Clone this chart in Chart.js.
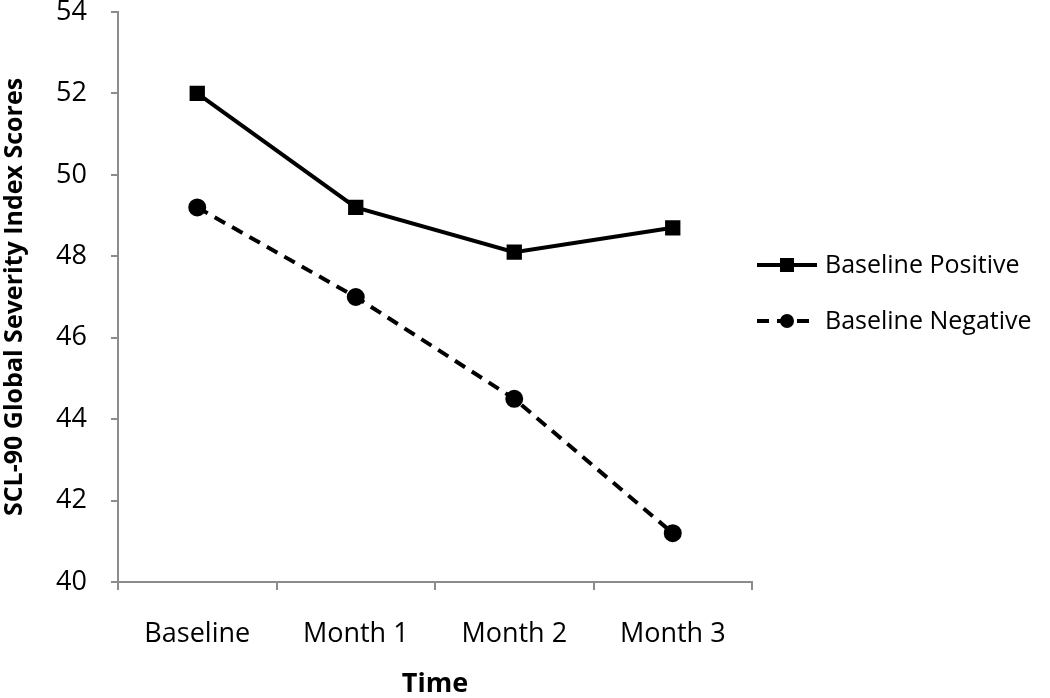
<!DOCTYPE html>
<html>
<head>
<meta charset="utf-8">
<script src="https://cdn.jsdelivr.net/npm/chart.js@4"></script>
<style>
  html, body { margin: 0; padding: 0; background: #fff; }
  #wrap { width: 1050px; height: 698px; }
</style>
</head>
<body>
<div id="wrap"><canvas id="myChart" width="1050" height="698"></canvas></div>
<script>
const timeLabels = ["Baseline", "Month 1", "Month 2", "Month 3"];
const positiveScores = [52.0, 49.2, 48.1, 48.7];
const negativeScores = [49.2, 47.0, 44.5, 41.2];
const seriesNames = ["Baseline Positive", "Baseline Negative"];

const fontFamily = "'Open Sans', sans-serif";

// legend drawn by hand so each entry shows the line with its marker
const sideLegend = {
  id: "sideLegend",
  afterDraw(chart) {
    const ctx = chart.ctx;
    chart.data.datasets.forEach((ds, i) => {
      const y = 265 + i * 56;
      ctx.save();
      ctx.strokeStyle = "#000";
      ctx.lineWidth = 4;
      ctx.setLineDash(ds.borderDash || []);
      ctx.beginPath();
      ctx.moveTo(757, y);
      ctx.lineTo(817, y);
      ctx.stroke();
      ctx.setLineDash([]);
      ctx.fillStyle = "#000";
      if (ds.pointStyle === "rect") {
        ctx.fillRect(787 - 7, y - 7, 14, 14);
      } else {
        ctx.beginPath();
        ctx.arc(787, y, 7, 0, Math.PI * 2);
        ctx.fill();
      }
      ctx.font = "25px " + fontFamily;
      ctx.textBaseline = "middle";
      ctx.fillText(ds.label, 825, y + 1);
      ctx.restore();
    });
  },
};

let ctx = document.getElementById("myChart").getContext("2d");
let myChart = new Chart(ctx, {
  type: "line",
  data: {
    labels: timeLabels,
    datasets: [
      {
        label: seriesNames[0],
        data: positiveScores,
        borderColor: "#000",
        backgroundColor: "#000",
        borderWidth: 4,
        pointStyle: "rect",
        pointRadius: 8,
        fill: false,
      },
      {
        label: seriesNames[1],
        data: negativeScores,
        borderColor: "#000",
        backgroundColor: "#000",
        borderWidth: 4,
        borderDash: [12, 8],
        pointStyle: "circle",
        pointRadius: 7,
        fill: false,
      },
    ],
  },
  options: {
    responsive: false,
    animation: false,
    layout: { padding: { top: 6, right: 298, left: 0, bottom: 0 } },
    plugins: {
      legend: { display: false },
      tooltip: { enabled: false },
    },
    scales: {
      x: {
        offset: true,
        grid: {
          offset: true,
          drawOnChartArea: false,
          tickLength: 8,
          color: "#8c8c8c",
          lineWidth: 2,
        },
        border: { color: "#8c8c8c", width: 2 },
        ticks: {
          color: "#000",
          font: { family: fontFamily, size: 27 },
          padding: 28,
        },
        title: {
          display: true,
          text: "Time",
          color: "#000",
          font: { family: fontFamily, size: 27, weight: "bold", lineHeight: 1.0 },
          padding: { top: 18, bottom: 0 },
        },
        afterFit(scale) {
          scale.height = 116;
        },
      },
      y: {
        min: 40,
        max: 54,
        ticks: {
          stepSize: 2,
          color: "#000",
          font: { family: fontFamily, size: 27 },
          padding: 24,
        },
        grid: {
          drawOnChartArea: false,
          tickLength: 7,
          color: "#8c8c8c",
          lineWidth: 2,
        },
        border: { color: "#8c8c8c", width: 2 },
        title: {
          display: true,
          text: "SCL-90 Global Severity Index Scores",
          color: "#000",
          font: { family: fontFamily, size: 25, weight: "bold", lineHeight: 1.0 },
          padding: { bottom: 0, top: 2 },
        },
        afterFit(scale) {
          scale.width = 118;
          scale.paddingTop = 0;
        },
      },
    },
  },
  plugins: [sideLegend],
});
</script>
</body>
</html>
